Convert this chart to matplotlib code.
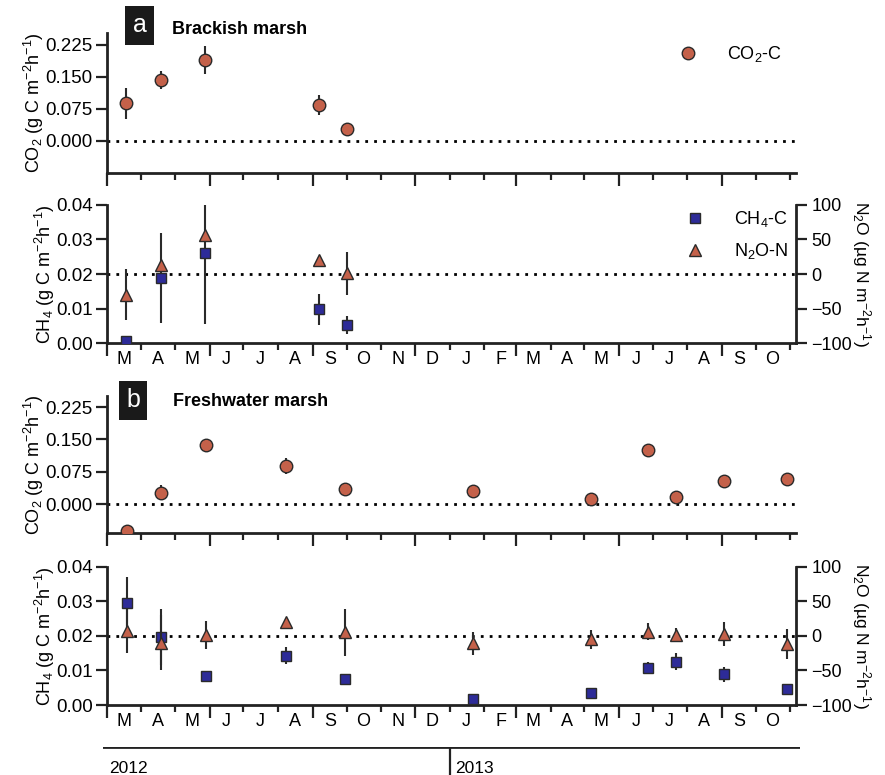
import numpy as np
import pandas as pd
import matplotlib
matplotlib.use("Agg")
from matplotlib import pyplot as plt
import matplotlib.dates as mdates
from matplotlib.lines import Line2D

plt.rcParams['font.family'] = ['Liberation Sans', 'DejaVu Sans']
plt.rcParams['mathtext.fontset'] = 'custom'
plt.rcParams['mathtext.rm'] = 'Liberation Sans'
plt.rcParams['mathtext.it'] = 'Liberation Sans'
plt.rcParams['mathtext.bf'] = 'Liberation Sans:bold'

# Brackish marsh (a)
dates_a = pd.to_datetime(['2012-03-18', '2012-04-18', '2012-05-28', '2012-09-06', '2012-10-01'])
co2_a = [0.088, 0.143, 0.190, 0.084, 0.027]
co2_a_err = [0.037, 0.022, 0.033, 0.023, 0.016]
ch4_a = [0.0007, 0.0188, 0.026, 0.0098, 0.0052]
ch4_a_err = [0, 0.013, 0.0205, 0.0045, 0.0025]
n2o_a = [-30, 13, 56, 21, 1]
n2o_a_err = [37, 0, 0, 3, 31]

# Freshwater marsh (b)
dates_b = pd.to_datetime(['2012-03-19', '2012-04-18', '2012-05-29', '2012-08-08', '2012-09-30',
                          '2013-01-22', '2013-05-07', '2013-06-27', '2013-07-22', '2013-09-03',
                          '2013-10-29'])
co2_b = [-0.062, 0.026, 0.137, 0.088, 0.034, 0.031, 0.011, 0.126, 0.017, 0.053, 0.057]
co2_b_err = [0, 0.017, 0.005, 0.019, 0, 0.005, 0.008, 0.010, 0.010, 0, 0]
ch4_b = [0.0296, 0.0197, 0.0084, 0.0143, 0.0075, 0.0016, 0.0034, 0.0108, 0.0125, 0.0089, 0.0045]
ch4_b_err = [0.0073, 0.008, 0.001, 0.0024, 0, 0, 0, 0.0016, 0.0025, 0.0022, 0]
n2o_b = [7, -10, 1, 19.5, 5, -11, -5, 6, 1, 2.5, -12]
n2o_b_err = [32, 40, 20, 3, 34, 17, 14, 12, 10, 17, 22]

month_starts = pd.date_range('2012-03-01', '2013-10-01', freq='MS')
month_labels = ['M', 'A', 'M', 'J', 'J', 'A', 'S', 'O', 'N', 'D',
                'J', 'F', 'M', 'A', 'M', 'J', 'J', 'A', 'S', 'O']
years = ['2012', '2013']

co2_ticks = [0.0, 0.075, 0.150, 0.225]
ch4_ticks = [0.0, 0.01, 0.02, 0.03, 0.04]
n2o_ticks = [-100, -50, 0, 50, 100]

ORANGE = '#C4614A'
BLUE = '#2D2B98'
EDGE = '#2a2a2a'
AXC = '#222222'

xmin = pd.Timestamp('2012-03-01')
xmax = pd.Timestamp('2013-11-06')

fig = plt.figure(figsize=(8.85, 7.75), dpi=100)
L, W = 0.1206, 0.7789


def style_x(ax, labels):
    ax.set_xlim(xmin, xmax)
    ax.xaxis.set_major_locator(mdates.MonthLocator(bymonth=[3, 6, 9, 12]))
    ax.xaxis.set_minor_locator(mdates.MonthLocator())
    ax.tick_params(axis='x', which='major', length=9, width=1.6, color=AXC, labelbottom=False)
    ax.tick_params(axis='x', which='minor', length=5, width=1.6, color=AXC)
    if labels:
        for d, lab in zip(month_starts, month_labels):
            mid = d + pd.Timedelta(days=15)
            ax.annotate(lab, xy=(mid, 0), xycoords=('data', 'axes fraction'),
                        xytext=(0, -6), textcoords='offset points',
                        ha='center', va='top', fontsize=13)


def co2_panel(rect, dates, vals, errs, ylim, legend):
    ax = fig.add_axes(rect)
    ax.axhline(0, color='black', lw=2, ls=(0, (1, 2.2)), zorder=1)
    ax.errorbar(dates, vals, yerr=errs, fmt='none', ecolor=EDGE, elinewidth=1.5, zorder=2)
    ax.plot(dates, vals, 'o', ms=9, mfc=ORANGE, mec=EDGE, mew=1.0, ls='none', zorder=3)
    ax.set_ylim(*ylim)
    ax.set_yticks(co2_ticks)
    ax.set_yticklabels(['%.3f' % t for t in co2_ticks])
    for s in ['top', 'right']:
        ax.spines[s].set_visible(False)
    for s in ['left', 'bottom']:
        ax.spines[s].set_linewidth(2)
        ax.spines[s].set_color(AXC)
    ax.tick_params(axis='y', length=8, width=1.6, color=AXC, labelsize=13.5, pad=2)
    ax.set_ylabel('CO$_2$ (g C m$^{-2}$h$^{-1}$)', fontsize=13, labelpad=0)
    style_x(ax, False)
    if legend:
        h = [Line2D([], [], marker='o', ms=9, mfc=ORANGE, mec=EDGE, ls='none')]
        ax.legend(h, ['CO$_2$-C'], loc='center left', bbox_to_anchor=(0.80, 0.85),
                  frameon=False, fontsize=13, handlelength=1.5, handletextpad=1.4)
    return ax


def ch4_panel(rect, dates, ch4, ch4e, n2o, n2oe, legend):
    ax = fig.add_axes(rect)
    ax.axhline(0.02, color='black', lw=2, ls=(0, (1, 2.2)), zorder=1)
    ax.errorbar(dates, ch4, yerr=ch4e, fmt='none', ecolor=EDGE, elinewidth=1.5, zorder=2)
    ax.plot(dates, ch4, 's', ms=7.5, mfc=BLUE, mec=EDGE, mew=1.0, ls='none', zorder=3)
    ax.set_ylim(0, 0.04)
    ax.set_yticks(ch4_ticks)
    ax.set_yticklabels(['%.2f' % t for t in ch4_ticks])
    ax.spines['top'].set_visible(False)
    ax.spines['right'].set_visible(False)
    for s in ['left', 'bottom']:
        ax.spines[s].set_linewidth(2)
        ax.spines[s].set_color(AXC)
    ax.tick_params(axis='y', length=8, width=1.6, color=AXC, labelsize=13.5, pad=2)
    ax.set_ylabel('CH$_4$ (g C m$^{-2}$h$^{-1}$)', fontsize=13, labelpad=-1)
    style_x(ax, True)

    ax2 = ax.twinx()
    ax2.errorbar(dates, n2o, yerr=n2oe, fmt='none', ecolor=EDGE, elinewidth=1.5, zorder=2)
    ax2.plot(dates, n2o, '^', ms=9, mfc=ORANGE, mec=EDGE, mew=1.0, ls='none', zorder=3)
    ax2.set_ylim(-100, 100)
    ax2.set_yticks(n2o_ticks)
    for s in ['top', 'left', 'bottom']:
        ax2.spines[s].set_visible(False)
    ax2.spines['right'].set_linewidth(2)
    ax2.spines['right'].set_color(AXC)
    ax2.tick_params(axis='y', length=8, width=1.6, color=AXC, labelsize=13, pad=3)
    ax2.set_ylabel('N$_2$O (\u00b5g N m$^{-2}$h$^{-1}$)', fontsize=12.5, rotation=270, labelpad=15)
    if legend:
        h = [Line2D([], [], marker='s', ms=7.5, mfc=BLUE, mec=EDGE, ls='none'),
             Line2D([], [], marker='^', ms=9, mfc=ORANGE, mec=EDGE, ls='none')]
        ax.legend(h, ['CH$_4$-C', 'N$_2$O-N'], loc='center left', bbox_to_anchor=(0.81, 0.78),
                  frameon=False, fontsize=13, handlelength=1.5, handletextpad=1.4,
                  labelspacing=0.65)
    return ax


co2_panel([L, 0.7768, W, 0.1806], dates_a, co2_a, co2_a_err, (-0.075, 0.253), True)
ch4_panel([L, 0.5574, W, 0.1781], dates_a, ch4_a, ch4_a_err, n2o_a, n2o_a_err, True)
co2_panel([L, 0.3119, W, 0.1772], dates_b, co2_b, co2_b_err, (-0.068, 0.251), False)
ch4_panel([L, 0.0903, W, 0.1785], dates_b, ch4_b, ch4_b_err, n2o_b, n2o_b_err, False)

# year bar
yax = fig.add_axes([L - 0.004, 0.0, W + 0.008, 0.036])
yax.set_xlim(xmin, xmax)
yax.set_ylim(0, 1)
yax.axis('off')
yax.axhline(1, color=AXC, lw=2)
yax.axvline(pd.Timestamp('2013-01-01'), color=AXC, lw=1.6)
yax.text(pd.Timestamp('2012-03-06'), 0.25, years[0], fontsize=12.5, va='center', ha='left')
yax.text(pd.Timestamp('2013-01-06'), 0.25, years[1], fontsize=12.5, va='center', ha='left')

# panel labels
bbox = dict(boxstyle='square,pad=0.3', fc='#1a1a1a', ec='none')
fig.text(139.5 / 885, 1 - 25 / 775, 'a', color='white', fontsize=18, ha='center', va='center', bbox=bbox)
fig.text(133 / 885, 1 - 400 / 775, 'b', color='white', fontsize=18, ha='center', va='center', bbox=bbox)
fig.text(172 / 885, 1 - 29 / 775, 'Brackish marsh', fontsize=13, fontweight='bold', va='center')
fig.text(173 / 885, 1 - 402 / 775, 'Freshwater marsh', fontsize=13, fontweight='bold', va='center')

plt.savefig('out.png', dpi=100)
